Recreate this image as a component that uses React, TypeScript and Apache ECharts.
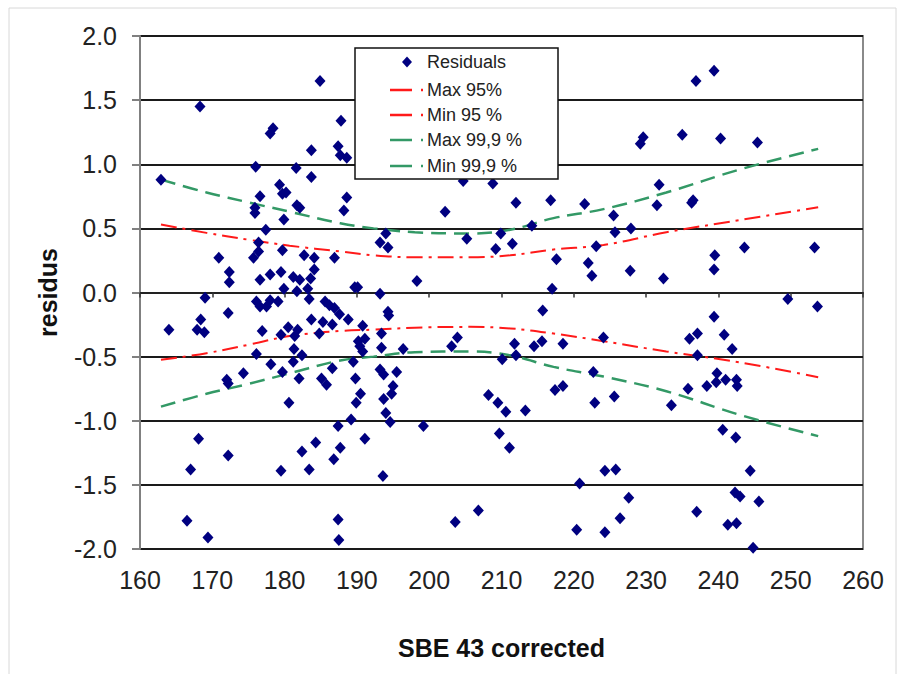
import React, { useEffect, useRef } from "react";
import * as echarts from "echarts";

const FONT = "'Liberation Sans', Arial, sans-serif";

// Scatter points (SBE 43 corrected, residus)
const residualX = [
  162.9, 164.0, 166.5, 167.0, 167.9, 168.1, 168.3, 168.4, 168.9, 169.0, 169.4, 170.9, 172.0, 172.2, 172.2, 172.2, 172.35, 172.35, 174.3,
  175.7, 175.9, 176.0, 175.9, 176.6, 176.4, 176.4, 176.6, 176.1, 176.6, 176.9, 176.1, 177.4, 177.5, 178.0, 178.4, 178.0, 178.0, 178.1, 179.3, 179.7, 180.2, 179.5, 179.1, 179.5, 179.7, 179.5, 179.7, 179.9, 179.9,
  180.5, 180.6, 181.6, 181.7, 182.1, 181.2, 181.7, 181.8, 181.4, 181.3, 182.4, 181.2, 182.0, 182.4, 182.7, 182.1, 183.4, 184.3, 183.7, 183.7, 183.2, 183.4, 183.6, 183.7, 184.1, 184.1, 184.9, 184.8, 185.1, 185.8, 185.6, 185.3,
  186.2, 186.9, 186.6, 186.6, 186.8, 186.9, 187.4, 187.8, 187.7, 188.6, 187.4, 187.7, 187.4, 187.5, 188.2, 188.6, 187.6, 188.8, 189.2, 189.5, 189.7, 190.1, 189.8, 189.9, 190.2, 190.4, 190.8, 190.5, 190.8, 191.1, 191.1,
  193.2, 194.0, 194.3, 193.2, 193.4, 193.4, 193.2, 193.7, 193.7, 193.6, 194.3, 194.4, 194.0, 194.6, 195.0, 194.8, 195.5, 196.4, 198.3, 199.2,
  202.2, 203.1, 203.9, 203.6, 204.7, 205.2, 206.8, 208.2, 208.8, 209.2, 209.5, 209.7, 209.9, 210.1, 210.6, 211.1, 211.5, 211.8, 212.0, 212.0, 213.3, 214.2, 214.5, 215.6, 215.7, 216.8, 217.0, 217.6, 217.4, 218.5, 218.5,
  220.4, 220.8, 221.5, 222.0, 222.5, 222.7, 222.9, 223.1, 224.1, 224.3, 224.3, 225.5, 225.7, 225.6, 225.8, 226.4, 227.6, 227.9, 227.8, 229.2, 229.6, 231.8, 231.5, 232.4, 233.5,
  235.0, 235.8, 236.0, 236.3, 236.5, 236.9, 237.0, 237.1, 237.1, 238.4, 239.4, 239.4, 239.5, 239.4, 239.7, 239.8, 240.3, 240.6, 240.8, 241.0, 241.3, 241.9, 242.5, 242.6, 242.4, 242.3, 243.0, 242.5, 243.6, 244.4, 244.8, 245.4, 245.6, 249.6, 253.3, 253.7,
];
const residualY = [
  0.88, -0.29, -1.78, -1.38, -0.29, -1.14, 1.45, -0.21, -0.31, -0.04, -1.91, 0.27, -0.68, -0.71, -0.16, -1.27, 0.16, 0.08, -0.63,
  0.27, 0.66, 0.98, 0.62, 0.75, 0.39, 0.32, 0.10, -0.07, -0.11, -0.30, -0.48, 0.49, -0.11, 1.24, 1.28, 0.14, -0.06, -0.56, 0.84, 0.77, 0.78, 0.16, -0.07, -0.33, -0.62, -1.39, 0.33, 0.57, 0.03,
  -0.27, -0.86, 0.97, 0.68, 0.66, 0.12, 0.01, -0.29, -0.34, -0.44, -0.49, -0.54, -0.67, -1.24, 0.29, 0.10, -1.38, -1.17, 1.11, 0.90, 0.03, -0.05, 0.11, -0.21, 0.18, 0.27, 1.65, -0.32, -0.67, -0.72, -0.07, -0.23,
  -0.10, -0.12, -0.25, -0.59, -1.30, 0.27, 1.14, 1.34, 1.07, 1.05, -1.04, -1.21, -1.77, -1.93, 0.64, 0.74, -0.17, -0.21, -0.99, -0.54, 0.04, 0.04, -0.67, -0.86, -0.38, -0.42, -0.46, -0.79, -0.26, -0.36, -1.14,
  0.39, 0.46, 0.35, -0.01, -0.32, -0.43, -0.60, -0.64, -0.83, -1.43, -0.15, -0.18, -0.94, -1.01, -0.73, -0.79, -0.62, -0.44, 0.09, -1.04,
  0.63, -0.42, -0.35, -1.79, 0.87, 0.42, -1.70, -0.80, 0.85, 0.34, -0.86, -1.10, 0.46, -0.52, -0.93, -1.21, 0.38, -0.40, 0.70, -0.49, -0.92, 0.52, -0.42, -0.38, -0.14, 0.72, 0.03, 0.26, -0.76, -0.40, -0.73,
  -1.85, -1.49, 0.69, 0.23, 0.13, -0.62, -0.86, 0.36, -0.35, -1.39, -1.87, 0.60, 0.47, -0.81, -1.38, -1.76, -1.60, 0.50, 0.17, 1.16, 1.21, 0.84, 0.68, 0.11, -0.88,
  1.23, -0.75, -0.36, 0.70, 0.72, 1.65, -1.71, -0.32, -0.49, -0.73, 1.73, 0.18, 0.29, -0.19, -0.70, -0.63, 1.20, -1.07, -0.33, -0.68, -1.81, -0.44, -0.68, -0.73, -1.13, -1.56, -1.59, -1.80, 0.35, -1.39, -1.99, 1.17, -1.63, -0.05, 0.35, -0.11,
];

// Confidence bands
const curveX = [162.9, 169.2, 175.2, 180.7, 187.7, 192.3, 198.0, 205.6, 211.2, 217.2, 224.1, 232.8, 243.0, 253.8];
const max95 = [0.53, 0.465, 0.41, 0.365, 0.32, 0.29, 0.275, 0.275, 0.29, 0.335, 0.37, 0.47, 0.565, 0.665];
const min95 = [-0.525, -0.473, -0.405, -0.34, -0.3, -0.29, -0.274, -0.268, -0.28, -0.32, -0.38, -0.46, -0.545, -0.66];
const max999 = [0.88, 0.78, 0.7, 0.63, 0.54, 0.5, 0.47, 0.46, 0.49, 0.58, 0.65, 0.78, 0.96, 1.12];
const min999 = [-0.89, -0.79, -0.71, -0.63, -0.53, -0.5, -0.465, -0.46, -0.49, -0.58, -0.655, -0.77, -0.955, -1.12];

const seriesNames = ["Residuals", "Max 95%", "Min 95 %", "Max 99,9 %", "Min 99,9 %"];
const xTicks = { min: 160, max: 260, interval: 10 };
const yTicks = { min: -2, max: 2, interval: 0.5 };

const RED = "#ff1a1a";
const GREEN = "#339966";
const NAVY = "#000080";

export default function App() {
  const ref = useRef<HTMLDivElement>(null);
  useEffect(() => {
    if (!ref.current) return;
    const chart = echarts.init(ref.current, null, { renderer: "svg" });
    const pairs = (xs: number[], ys: number[]) => xs.map((x, i) => [x, ys[i]]);
    const redDash = [16, 6, 3, 6];
    const greenDash = [15, 8];

    // Hand-drawn legend box (Excel style)
    const legBox = { x: 355, y: 48, w: 203, h: 131 };
    const rowY = [62, 90, 115, 140, 166];
    const iconX0 = 390;
    const iconX1 = 424;
    const textX = 427;
    const lineColors = [RED, RED, GREEN, GREEN];
    const legendGraphics: any[] = [
      {
        type: "rect",
        z: 10,
        silent: true,
        shape: { x: legBox.x, y: legBox.y, width: legBox.w, height: legBox.h },
        style: { fill: "#ffffff", stroke: "#111", lineWidth: 1.5 },
      },
      {
        type: "polygon",
        z: 11,
        silent: true,
        shape: {
          points: [
            [407, rowY[0] - 5.5],
            [412, rowY[0]],
            [407, rowY[0] + 5.5],
            [402, rowY[0]],
          ],
        },
        style: { fill: NAVY },
      },
    ];
    seriesNames.forEach((name, i) => {
      legendGraphics.push({
        type: "text",
        z: 11,
        silent: true,
        x: textX,
        y: rowY[i],
        style: {
          text: name,
          font: `18px ${FONT}`,
          fill: "#222",
          verticalAlign: "middle",
          align: "left",
        },
      });
      if (i > 0) {
        legendGraphics.push({
          type: "line",
          z: 11,
          silent: true,
          shape: { x1: iconX0, y1: rowY[i], x2: iconX1, y2: rowY[i] },
          style: { stroke: lineColors[i - 1], lineWidth: 2.5, lineDash: [22, 9, 2, 100] },
        });
      }
    });

    chart.setOption({
      animation: false,
      backgroundColor: "#ffffff",
      textStyle: { fontFamily: FONT },
      grid: {
        left: 140,
        top: 36,
        right: 35,
        bottom: 125,
        show: true,
        borderColor: "#8a8a8a",
        borderWidth: 2,
      },
      xAxis: [
        {
          type: "value",
          min: xTicks.min,
          max: xTicks.max,
          interval: xTicks.interval,
          position: "bottom",
          axisLine: { show: false, onZero: false },
          axisTick: { show: false },
          splitLine: { show: false },
          axisLabel: { fontSize: 25, color: "#222", margin: 18, fontFamily: FONT },
          name: "SBE 43 corrected",
          nameLocation: "middle",
          nameGap: 86,
          nameTextStyle: { fontSize: 25, fontWeight: "bold", color: "#111", fontFamily: FONT },
        },
        {
          type: "value",
          min: xTicks.min,
          max: xTicks.max,
          interval: xTicks.interval,
          position: "bottom",
          axisLine: { show: true, onZero: true, lineStyle: { color: "#222", width: 1.8 } },
          axisTick: { show: true, length: 5, inside: false, lineStyle: { color: "#333", width: 1.5 } },
          splitLine: { show: false },
          axisLabel: { show: false },
        },
      ],
      yAxis: {
        type: "value",
        min: yTicks.min,
        max: yTicks.max,
        interval: yTicks.interval,
        axisLine: { show: true, lineStyle: { color: "#808080", width: 2 } },
        axisTick: { show: true, length: 8, lineStyle: { color: "#808080", width: 2 } },
        splitLine: { show: true, lineStyle: { color: "#1a1a1a", width: 2 } },
        axisLabel: {
          fontSize: 25,
          color: "#222",
          margin: 23,
          fontFamily: FONT,
          formatter: (v: number) => v.toFixed(1),
        },
        name: "residus",
        nameLocation: "middle",
        nameRotate: 90,
        nameGap: 80,
        nameTextStyle: { fontSize: 25, fontWeight: "bold", color: "#111", fontFamily: FONT },
      },
      graphic: [
        {
          type: "rect",
          z: 0,
          silent: true,
          shape: { x: 9, y: 8, width: 887, height: 700 },
          style: { fill: "none", stroke: "#d8d8d8", lineWidth: 1 },
        },
        ...legendGraphics,
      ],
      series: [
        {
          name: seriesNames[0],
          type: "scatter",
          symbol: "diamond",
          symbolSize: [11, 12],
          itemStyle: { color: NAVY, opacity: 1 },
          data: pairs(residualX, residualY),
          z: 2,
        },
        {
          name: seriesNames[1],
          type: "line",
          smooth: 0.4,
          showSymbol: false,
          symbol: "none",
          lineStyle: { color: RED, width: 2, type: redDash },
          itemStyle: { color: RED },
          data: pairs(curveX, max95),
          z: 1,
        },
        {
          name: seriesNames[2],
          type: "line",
          smooth: 0.4,
          showSymbol: false,
          symbol: "none",
          lineStyle: { color: RED, width: 2, type: redDash },
          itemStyle: { color: RED },
          data: pairs(curveX, min95),
          z: 1,
        },
        {
          name: seriesNames[3],
          type: "line",
          smooth: 0.4,
          showSymbol: false,
          symbol: "none",
          lineStyle: { color: GREEN, width: 2.5, type: greenDash },
          itemStyle: { color: GREEN },
          data: pairs(curveX, max999),
          z: 1,
        },
        {
          name: seriesNames[4],
          type: "line",
          smooth: 0.4,
          showSymbol: false,
          symbol: "none",
          lineStyle: { color: GREEN, width: 2.5, type: greenDash },
          itemStyle: { color: GREEN },
          data: pairs(curveX, min999),
          z: 1,
        },
      ],
    });
    return () => chart.dispose();
  }, []);
  return (
    <div
      ref={ref}
      style={{ position: "fixed", left: 0, top: 0, width: 898, height: 674, background: "#fff" }}
    />
  );
}
